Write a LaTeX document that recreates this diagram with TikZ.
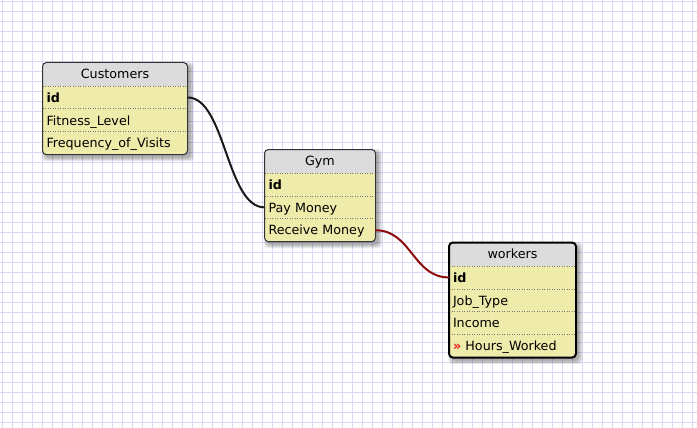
\documentclass[tikz,border=0pt]{standalone}
\usepackage{fontspec}
\setmainfont{DejaVu Sans}
\definecolor{gridcol}{RGB}{218,216,244}
\definecolor{hdrgray}{RGB}{220,220,220}
\definecolor{rowyellow}{RGB}{239,235,170}
\definecolor{divcol}{RGB}{120,120,120}
\definecolor{relred}{RGB}{140,12,12}
\definecolor{mark}{RGB}{230,20,20}
\newcommand\tabfont{\fontsize{12.7}{15}\selectfont}
\newcommand\softshadow[4]{%
  \foreach \g in {0,1,2,3,4}{%
    \fill[black,opacity=0.07,rounded corners=4]
      ({#1+3-\g*0.9},{#2+3-\g*0.9}) rectangle ({#3+3+\g*0.9},{#4+3+\g*0.9});}}
\begin{document}
\begin{tikzpicture}[x=1pt,y=-1pt,
  hdr/.style={rectangle, fill=hdrgray, inner sep=0pt, outer sep=0pt,
    minimum height=23.5pt, minimum width=#1, text height=9.3pt, text depth=0pt,
    anchor=north west, font=\tabfont},
  rowbox/.style={rectangle, fill=rowyellow, inner xsep=4pt, inner ysep=0pt, outer sep=0pt,
    minimum height=22.9pt, text width=#1, align=left, text height=9.3pt, text depth=0pt,
    anchor=north west, font=\tabfont},
  divider/.style={divcol, line width=0.8pt, dash pattern=on 1pt off 1.5pt},
  frame/.style={draw=black!80, line width=1pt, rounded corners=4},
  selframe/.style={draw=black, line width=2pt, rounded corners=4},
  conn/.style={line width=2pt, black!90},
  connred/.style={line width=2pt, relred}
]
\useasboundingbox (0,0) rectangle (697,428);
\fill[white] (0,0) rectangle (697,428);
% grid
\foreach \i in {0,...,69} \draw[gridcol, line width=1pt] ({2+10*\i},0) -- ({2+10*\i},428);
\foreach \j in {0,...,42} \draw[gridcol, line width=1pt] (0,{2+10*\j}) -- (697,{2+10*\j});

% ---------- Customers ----------
\softshadow{42.5}{62.5}{187.5}{154.7}
\begin{scope}
\clip[rounded corners=4] (42.5,62.5) rectangle (187.5,154.7);
\node[hdr=145pt] (cust) at (42.5,62.5) {Customers};
\node[rowbox=137pt] (cust-id) at (cust.south west) {\textbf{id}};
\node[rowbox=137pt] (cust-fit) at (cust-id.south west) {Fitness\_Level};
\node[rowbox=137pt] (cust-freq) at (cust-fit.south west) {Frequency\_of\_Visits};
\end{scope}
\draw[divider] (cust.south west) -- (cust.south east);
\draw[divider] (cust-id.south west) -- (cust-id.south east);
\draw[divider] (cust-fit.south west) -- (cust-fit.south east);
\draw[frame] (42.5,62.5) rectangle (187.5,154.7);

% ---------- Gym ----------
\softshadow{264.5}{149.5}{375.5}{241.7}
\begin{scope}
\clip[rounded corners=4] (264.5,149.5) rectangle (375.5,241.7);
\node[hdr=111pt] (gym) at (264.5,149.5) {Gym};
\node[rowbox=103pt] (gym-id) at (gym.south west) {\textbf{id}};
\node[rowbox=103pt] (gym-pay) at (gym-id.south west) {Pay Money};
\node[rowbox=103pt] (gym-rec) at (gym-pay.south west) {Receive Money};
\end{scope}
\draw[divider] (gym.south west) -- (gym.south east);
\draw[divider] (gym-id.south west) -- (gym-id.south east);
\draw[divider] (gym-pay.south west) -- (gym-pay.south east);
\draw[frame] (264.5,149.5) rectangle (375.5,241.7);

% ---------- workers ----------
\softshadow{449}{242.5}{576}{357.6}
\begin{scope}
\clip[rounded corners=4] (449,242.5) rectangle (576,357.6);
\node[hdr=127pt] (wrk) at (449,242.5) {workers};
\node[rowbox=119pt] (wrk-id) at (wrk.south west) {\textbf{id}};
\node[rowbox=119pt] (wrk-job) at (wrk-id.south west) {Job\_Type};
\node[rowbox=119pt] (wrk-inc) at (wrk-job.south west) {Income};
\node[rowbox=119pt] (wrk-hrs) at (wrk-inc.south west) {\textcolor{mark}{\textbf{»}} Hours\_Worked};
\end{scope}
\draw[divider] (wrk.south west) -- (wrk.south east);
\draw[divider] (wrk-id.south west) -- (wrk-id.south east);
\draw[divider] (wrk-job.south west) -- (wrk-job.south east);
\draw[divider] (wrk-inc.south west) -- (wrk-inc.south east);
\draw[selframe] (449,242.5) rectangle (576,357.6);

% ---------- connectors ----------
\draw[conn] (cust-id.east) .. controls +(38,0) and +(-38,0) .. (gym-pay.west);
\draw[connred] (gym-rec.east) .. controls +(36,0) and +(-36,0) .. (wrk-id.west);
\end{tikzpicture}
\end{document}
